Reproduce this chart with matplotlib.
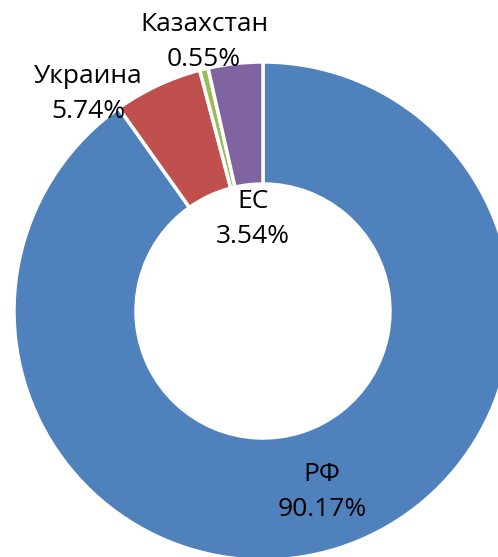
import matplotlib
matplotlib.use("Agg")
from matplotlib import pyplot as plt

# data
names = ["РФ", "Украина", "Казахстан", "ЕС"]
shares = [90.17, 5.74, 0.55, 3.54]
colors = ["#4F81BD", "#C0504D", "#9BBB59", "#8064A2"]

# label positions in pixels (x, y from top)
label_pos = [(322, 492), (88, 94), (204, 42), (253, 219)]

W, H = 498, 557
fig = plt.figure(figsize=(W / 100, H / 100), dpi=100)
ax = fig.add_axes([0, 0, 1, 1])

cx, cy, r = 263, 311, 249
ax.pie(shares, colors=colors, startangle=90, counterclock=False,
       radius=r, center=(cx, H - cy),
       wedgeprops=dict(width=r * 0.49, edgecolor="white", linewidth=2.5))

for n, s, (x, y) in zip(names, shares, label_pos):
    ax.text(x, H - y, f"{n}\n{s:.2f}%", ha="center", va="center",
            fontsize=19, family="Open Sans", linespacing=1.5)

ax.set_xlim(0, W)
ax.set_ylim(0, H)
ax.set_aspect("equal")
ax.axis("off")

fig.savefig("out.png", dpi=100)
